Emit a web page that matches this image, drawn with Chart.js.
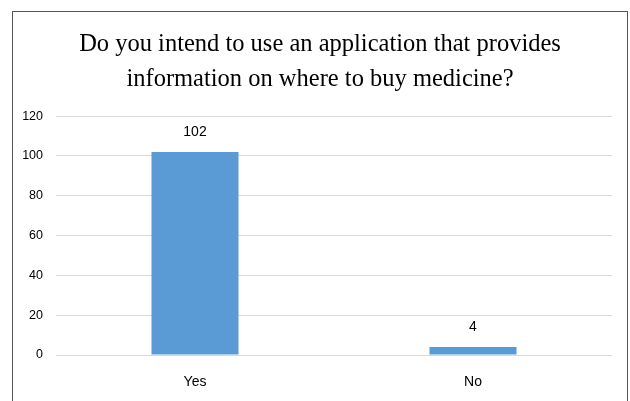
<!DOCTYPE html>
<html>
<head>
<meta charset="utf-8">
<script src="https://cdn.jsdelivr.net/npm/chart.js@4"></script>
<style>
  html, body { margin: 0; padding: 0; background: #fff; }
  #marco { position: relative; width: 630px; height: 401px; }
  #borde {
    position: absolute; left: 12px; top: 11px; width: 616px; height: 400px;
    border: 1.5px solid #555; box-sizing: border-box; pointer-events: none;
  }
  canvas { position: absolute; left: 0; top: 0; }
</style>
</head>
<body>
<div id="marco">
  <canvas id="grafica" width="630" height="401"></canvas>
  <div id="borde"></div>
</div>
<script>
const categorias = ["Yes", "No"];
const respuestas = [102, 4];
const ticksY = [0, 20, 40, 60, 80, 100, 120];
const titulo = [
  "Do you intend to use an application that provides",
  "information on where to buy medicine?"
];

// etiquetas encima de cada barra
const etiquetasBarras = {
  id: "etiquetasBarras",
  afterDatasetsDraw(chart) {
    const ctx = chart.ctx;
    const meta = chart.getDatasetMeta(0);
    ctx.save();
    ctx.font = "14px 'Liberation Sans', Arial, sans-serif";
    ctx.fillStyle = "#000";
    ctx.textAlign = "center";
    ctx.textBaseline = "bottom";
    meta.data.forEach((barra, i) => {
      ctx.fillText(respuestas[i], barra.x, barra.y - 13);
    });
    ctx.restore();
  }
};

// el título va centrado dentro del marco, no en todo el lienzo
const moverTitulo = {
  id: "moverTitulo",
  afterLayout(chart) {
    if (chart.titleBlock) chart.titleBlock.left = 28;
  }
};

new Chart(document.getElementById("grafica"), {
  type: "bar",
  data: {
    labels: categorias,
    datasets: [{
      data: respuestas,
      backgroundColor: "#5B9BD5",
      barPercentage: 0.313,
      categoryPercentage: 1
    }]
  },
  options: {
    responsive: false,
    animation: false,
    layout: { padding: { left: 0, right: 18, top: 0, bottom: 0 } },
    plugins: {
      legend: { display: false },
      tooltip: { enabled: false },
      title: {
        display: true,
        text: titulo,
        color: "#000",
        font: { family: "'Liberation Serif', 'Times New Roman', serif", size: 24.5, weight: "normal", lineHeight: 1.43 },
        padding: { top: 27, bottom: 19 }
      }
    },
    scales: {
      x: {
        grid: { display: false, drawTicks: false },
        border: { display: false },
        ticks: {
          color: "#000",
          padding: 19,
          font: { family: "'Liberation Sans', Arial, sans-serif", size: 14 }
        },
        afterFit(scale) { scale.height = 46; }
      },
      y: {
        min: 0,
        max: 120,
        afterBuildTicks(scale) { scale.ticks = ticksY.map(v => ({ value: v })); },
        grid: { color: "#d9d9d9", lineWidth: 1, drawTicks: false },
        border: { display: false },
        ticks: {
          color: "#000",
          padding: 13,
          font: { family: "'Liberation Sans', Arial, sans-serif", size: 12.5 }
        },
        afterFit(scale) { scale.width = 56; }
      }
    }
  },
  plugins: [etiquetasBarras, moverTitulo]
});
</script>
</body>
</html>
